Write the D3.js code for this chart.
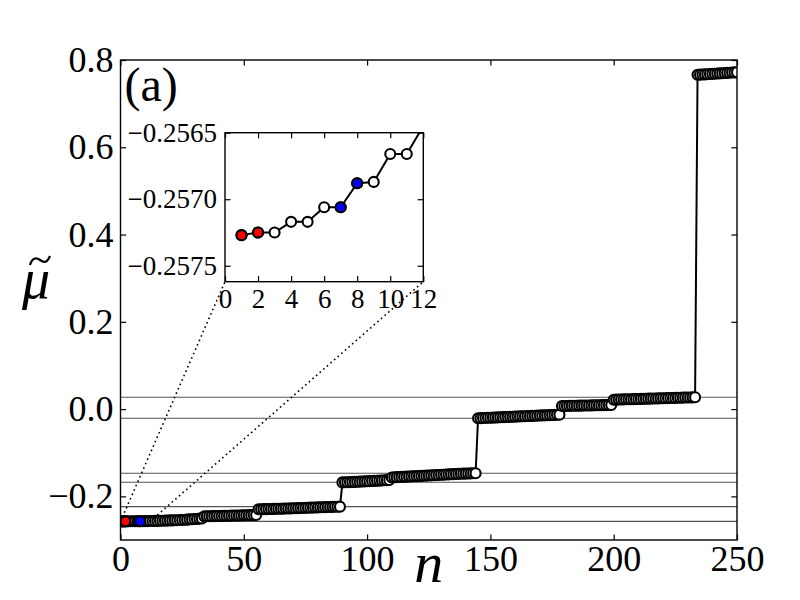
<!DOCTYPE html>
<html>
<head>
<meta charset="utf-8">
<script src="https://cdn.jsdelivr.net/npm/d3@7"></script>
<style>
  body { margin: 0; background: #fff; }
  svg text { font-family: "Liberation Serif", "DejaVu Serif", serif; }
</style>
</head>
<body>
<div id="chart"></div>
<script>
// Eigenvalue bands (n = 1..250, in order)
const bandA = [
  -0.25727, -0.25725, -0.25725, -0.25717, -0.25717, -0.25706, -0.25706, -0.25688, -0.25687, -0.25666,
  -0.25666, -0.25645, -0.25643, -0.25620, -0.25618, -0.25590, -0.25588, -0.25552, -0.25550, -0.25510,
  -0.25508, -0.25462, -0.25460, -0.25410, -0.25405, -0.25345, -0.25335, -0.25270, -0.25260, -0.25190,
  -0.25180, -0.25100, -0.25050, -0.24580, -0.24570, -0.24550, -0.24540, -0.24520, -0.24510, -0.24490,
  -0.24480, -0.24460, -0.24450, -0.24430, -0.24420, -0.24400, -0.24390, -0.24370, -0.24360, -0.24340,
  -0.24330, -0.24310, -0.24300, -0.24280, -0.24260
];
const bandB = [
  -0.2296, -0.2295, -0.2293, -0.2292, -0.2290, -0.2289, -0.2287, -0.2286, -0.2284, -0.2283,
  -0.2281, -0.2279, -0.2277, -0.2275, -0.2273, -0.2271, -0.2269, -0.2267, -0.2265, -0.2263,
  -0.2261, -0.2259, -0.2257, -0.2255, -0.2253, -0.2251, -0.2249, -0.2247, -0.2245, -0.2243,
  -0.2241, -0.2239, -0.2238, -0.2236
];
const bandC = [
  -0.1680, -0.1678, -0.1676, -0.1673, -0.1671, -0.1668, -0.1666, -0.1663, -0.1660, -0.1657,
  -0.1654, -0.1651, -0.1648, -0.1645, -0.1642, -0.1639, -0.1636, -0.1632, -0.1629, -0.1625,
  -0.1566, -0.1563, -0.1560, -0.1557, -0.1554, -0.1551, -0.1548, -0.1545, -0.1542, -0.1539,
  -0.1536, -0.1533, -0.1530, -0.1527, -0.1524, -0.1521, -0.1518, -0.1515, -0.1512, -0.1509,
  -0.1506, -0.1503, -0.1500, -0.1497, -0.1494, -0.1491, -0.1488, -0.1485, -0.1482, -0.1480,
  -0.1478, -0.1476, -0.1474, -0.1472, -0.1471
];
const bandD = [
  -0.0210, -0.0208, -0.0205, -0.0203, -0.0200, -0.0198, -0.0195, -0.0193, -0.0190, -0.0188,
  -0.0185, -0.0183, -0.0180, -0.0178, -0.0175, -0.0173, -0.0170, -0.0168, -0.0165, -0.0163,
  -0.0160, -0.0158, -0.0155, -0.0153, -0.0150, -0.0148, -0.0145, -0.0143, -0.0140, -0.0138,
  -0.0135, -0.0133, -0.0130, -0.0127
];
const bandE = [
  0.0070, 0.0071, 0.0072, 0.0074, 0.0075, 0.0076, 0.0077, 0.0079, 0.0080, 0.0081,
  0.0082, 0.0084, 0.0085, 0.0086, 0.0087, 0.0089, 0.0090, 0.0091, 0.0092, 0.0094, 0.0095
];
const bandF = [
  0.0215, 0.0217, 0.0219, 0.0220, 0.0222, 0.0224, 0.0225, 0.0227, 0.0229, 0.0230,
  0.0232, 0.0234, 0.0235, 0.0237, 0.0239, 0.0240, 0.0242, 0.0244, 0.0245, 0.0247,
  0.0249, 0.0250, 0.0252, 0.0254, 0.0255, 0.0257, 0.0259, 0.0260, 0.0262, 0.0264,
  0.0265, 0.0267, 0.0269, 0.0271
];
const bandG = [
  0.7660, 0.7664, 0.7668, 0.7671, 0.7675, 0.7679, 0.7683, 0.7686, 0.7690, 0.7694,
  0.7698, 0.7701, 0.7705, 0.7709, 0.7713, 0.7716, 0.7720
];

// highlighted states
const redStates = [1, 2];
const blueStates = [7, 8];

// horizontal reference levels
const refLevels = [0.0271, -0.0210, -0.1471, -0.1677, -0.2236, -0.2573];

// ticks and ranges
const xTicks = [0, 50, 100, 150, 200, 250];
const yTicks = [-0.2, 0.0, 0.2, 0.4, 0.6, 0.8];
const xDomain = [0, 250];
const yDomain = [-0.3, 0.8];
const insetXTicks = [0, 2, 4, 6, 8, 10, 12];
const insetYTicks = [-0.2575, -0.2570, -0.2565];
const insetXDomain = [0, 12];
const insetYDomain = [-0.25762, -0.2565];

const mu = [...bandA, ...bandB, ...bandC, ...bandD, ...bandE, ...bandF, ...bandG];
const points = mu.map((v, i) => ({ n: i + 1, mu: v }));
const highlighted = [
  ...points.filter(d => redStates.includes(d.n)).map(d => ({ ...d, color: "#ff0000" })),
  ...points.filter(d => blueStates.includes(d.n)).map(d => ({ ...d, color: "#0000ff" }))
];

const serif = '"Liberation Serif", "DejaVu Serif", serif';

// layout
const W = 800, H = 600;
const margin = { top: 60, right: 63, bottom: 60, left: 120.5 };
const width = W - margin.left - margin.right;
const height = H - margin.top - margin.bottom;
const inset = { left: 225, top: 132.7, width: 198.3, height: 149 };
const tickLen = 5.6;
const markR = 5, markStroke = 2.1;

const svg = d3.select("#chart").append("svg")
  .attr("width", W)
  .attr("height", H);

const defs = svg.append("defs");
defs.append("clipPath").attr("id", "clipMain")
  .append("rect").attr("width", width).attr("height", height);
defs.append("clipPath").attr("id", "clipInset")
  .append("rect").attr("width", inset.width).attr("height", inset.height);

const g = svg.append("g")
  .attr("transform", `translate(${margin.left},${margin.top})`);

const x = d3.scaleLinear().domain(xDomain).range([0, width]);
const y = d3.scaleLinear().domain(yDomain).range([height, 0]);

// inside ticks on all sides
function styleAxis(sel, size) {
  sel.attr("font-family", null).attr("font-size", null);
  sel.select(".domain").remove();
  sel.selectAll(".tick line").attr("stroke", "#000").attr("stroke-width", 1.2);
  sel.selectAll(".tick text")
    .attr("fill", "#000")
    .style("font-family", serif)
    .style("font-size", size + "px");
}

// draw line, open markers, then the coloured markers on top
function drawSeries(parent, sx, sy) {
  parent.append("path")
    .datum(points)
    .attr("fill", "none")
    .attr("stroke", "#000")
    .attr("stroke-width", 2)
    .attr("d", d3.line().x(d => sx(d.n)).y(d => sy(d.mu)));
  parent.append("g").selectAll("circle")
    .data(points)
    .join("circle")
    .attr("cx", d => sx(d.n))
    .attr("cy", d => sy(d.mu))
    .attr("r", markR)
    .attr("fill", "#fff")
    .attr("stroke", "#000")
    .attr("stroke-width", markStroke);
  parent.append("g").selectAll("circle")
    .data(highlighted)
    .join("circle")
    .attr("cx", d => sx(d.n))
    .attr("cy", d => sy(d.mu))
    .attr("r", markR)
    .attr("fill", d => d.color)
    .attr("stroke", "#000")
    .attr("stroke-width", markStroke);
}

g.append("g")
  .attr("transform", `translate(0,${height})`)
  .call(d3.axisBottom(x).tickValues(xTicks).tickFormat(d3.format("d"))
    .tickSizeInner(-tickLen).tickSizeOuter(0).tickPadding(5))
  .call(s => styleAxis(s, 36));
g.append("g")
  .call(d3.axisTop(x).tickValues(xTicks).tickFormat("")
    .tickSizeInner(-tickLen).tickSizeOuter(0))
  .call(s => styleAxis(s, 36));
g.append("g")
  .call(d3.axisLeft(y).tickValues(yTicks).tickFormat(d3.format(".1f"))
    .tickSizeInner(-tickLen).tickSizeOuter(0).tickPadding(7))
  .call(s => styleAxis(s, 36));
g.append("g")
  .attr("transform", `translate(${width},0)`)
  .call(d3.axisRight(y).tickValues(yTicks).tickFormat("")
    .tickSizeInner(-tickLen).tickSizeOuter(0))
  .call(s => styleAxis(s, 36));

const plot = g.append("g").attr("clip-path", "url(#clipMain)");

// reference levels
plot.append("g").selectAll("line")
  .data(refLevels)
  .join("line")
  .attr("x1", 0).attr("x2", width)
  .attr("y1", d => y(d)).attr("y2", d => y(d))
  .attr("stroke", "#555")
  .attr("stroke-width", 1.1);

// connector lines from zoom region to the inset
const zoomLeft = [x(insetXDomain[0]), y(insetYDomain[0])];
const zoomRight = [x(insetXDomain[1]), y(insetYDomain[0])];
const insetLL = [inset.left - margin.left, inset.top + inset.height - margin.top];
const insetLR = [inset.left + inset.width - margin.left, inset.top + inset.height - margin.top];
g.append("g").selectAll("line")
  .data([[zoomLeft, insetLL], [zoomRight, insetLR]])
  .join("line")
  .attr("x1", d => d[0][0]).attr("y1", d => d[0][1])
  .attr("x2", d => d[1][0]).attr("y2", d => d[1][1])
  .attr("stroke", "#000")
  .attr("stroke-width", 1.6)
  .attr("stroke-dasharray", "1.6,3.2");

drawSeries(plot, x, y);

g.append("rect")
  .attr("width", width).attr("height", height)
  .attr("fill", "none").attr("stroke", "#000").attr("stroke-width", 1.4);

// panel label and axis labels
g.append("text")
  .attr("x", 4).attr("y", 41)
  .style("font-size", "48px")
  .text("(a)");

svg.append("text")
  .attr("x", margin.left + width / 2)
  .attr("y", 582)
  .attr("text-anchor", "middle")
  .style("font-size", "58px")
  .style("font-style", "italic")
  .text("n");

// y label: italic mu with a drawn tilde accent
svg.append("text")
  .attr("x", 22).attr("y", 298)
  .style("font-size", "56px")
  .style("font-style", "italic")
  .text("\u03bc");
svg.append("path")
  .attr("d", "M30,265 C32,258 36,257 40,260 C44,263 47,263 50,256")
  .attr("fill", "none")
  .attr("stroke", "#000")
  .attr("stroke-width", 2.2);

// inset
const ig = svg.append("g")
  .attr("transform", `translate(${inset.left},${inset.top})`);

const ix = d3.scaleLinear().domain(insetXDomain).range([0, inset.width]);
const iy = d3.scaleLinear().domain(insetYDomain).range([inset.height, 0]);

ig.append("rect")
  .attr("width", inset.width).attr("height", inset.height)
  .attr("fill", "#fff");

ig.append("g")
  .attr("transform", `translate(0,${inset.height})`)
  .call(d3.axisBottom(ix).tickValues(insetXTicks).tickFormat(d3.format("d"))
    .tickSizeInner(-tickLen).tickSizeOuter(0).tickPadding(7))
  .call(s => styleAxis(s, 27));
ig.append("g")
  .call(d3.axisTop(ix).tickValues(insetXTicks).tickFormat("")
    .tickSizeInner(-tickLen).tickSizeOuter(0))
  .call(s => styleAxis(s, 27));
ig.append("g")
  .call(d3.axisLeft(iy).tickValues(insetYTicks).tickFormat(d3.format(".4f"))
    .tickSizeInner(-tickLen).tickSizeOuter(0).tickPadding(8))
  .call(s => styleAxis(s, 27));
ig.append("g")
  .attr("transform", `translate(${inset.width},0)`)
  .call(d3.axisRight(iy).tickValues(insetYTicks).tickFormat("")
    .tickSizeInner(-tickLen).tickSizeOuter(0))
  .call(s => styleAxis(s, 27));

const iplot = ig.append("g").attr("clip-path", "url(#clipInset)");
drawSeries(iplot, ix, iy);

ig.append("rect")
  .attr("width", inset.width).attr("height", inset.height)
  .attr("fill", "none").attr("stroke", "#000").attr("stroke-width", 1.4);
</script>
</body>
</html>
